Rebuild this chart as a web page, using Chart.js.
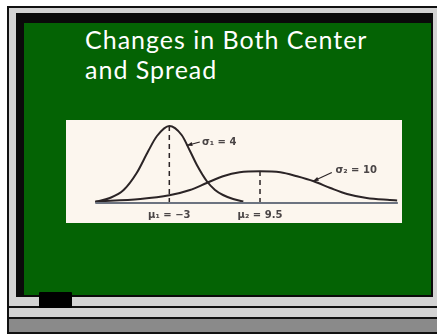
<!DOCTYPE html>
<html>
<head>
<meta charset="utf-8">
<script src="https://cdn.jsdelivr.net/npm/chart.js@4"></script>
<style>
  html, body { margin: 0; padding: 0; background: #fff; }
  body { width: 437px; height: 335px; position: relative; overflow: hidden; }
  .abs { position: absolute; box-sizing: border-box; }
  #frame { left: 7px; top: 6px; width: 440px; height: 328px; border: 2px solid #111; background: #d3d3d3; }
  #board { left: 16px; top: 13px; width: 417px; height: 284px; background: #046304;
           border-style: solid; border-color: #0a0a0a; border-width: 10px 2px 2px 8px; }
  #line1 { left: 9px; top: 306px; width: 440px; height: 2px; background: #111; }
  #line2 { left: 9px; top: 317px; width: 440px; height: 2px; background: #111; }
  #lower { left: 9px; top: 319px; width: 440px; height: 13px; background: #8a8a8a; }
  #eraser { left: 39px; top: 292px; width: 33px; height: 16px; background: #000; border-radius: 1px; }
  #title { left: 85px; top: 24px; color: #fff; font-family: "Comic Sans MS", Lato, sans-serif;
           font-size: 25px; letter-spacing: 1px; line-height: 30px; white-space: nowrap; }
  #wrap { left: 66px; top: 120px; width: 336px; height: 103px; background: #fcf6ee; }
</style>
</head>
<body>
<div id="frame" class="abs"></div>
<div id="board" class="abs"></div>
<div id="line1" class="abs"></div>
<div id="line2" class="abs"></div>
<div id="lower" class="abs"></div>
<div id="eraser" class="abs"></div>
<div id="title" class="abs">Changes in Both Center<br>and Spread</div>
<div id="wrap" class="abs"><canvas id="chart" width="336" height="103"></canvas></div>
<script>
// curve 1 (mean -3, sd 4), heights in picture units
const curve1X = [-13.2, -11.2, -9.3, -7.5, -5.9, -4.7, -3, -1.3, -0.15, 0.8, 2.15, 3.3, 4.4, 5.8, 7.2];
const curve1Y = [1, 5, 13, 30, 52, 67, 77, 68, 52, 38, 22, 13, 8, 4, 1.5];

// curve 2 (mean 9.5, sd 10)
const curve2X = [-13.2, -7, -3, -0.15, 2.15, 4.4, 6.7, 9.5, 12.3, 14.6, 16.9, 19.2, 21.5, 24.2, 27.4, 28.4];
const curve2Y = [1.5, 4, 7.7, 13, 20, 26.7, 30.7, 31.7, 30.7, 26.7, 21.7, 15, 9, 5, 3, 2.5];

const means = [-3, 9.5];
const meanHeights = [77, 31.7];
const baseRange = [-13.2, 28.5];

const labels = [
    { text: 'σ₁ = 4', x: 1.5, y: 61, align: 'left', arrowFrom: [1.2, 61], arrowTo: [-0.6, 57.5] },
    { text: 'σ₂ = 10', x: 19.9, y: 33, align: 'left', arrowFrom: [19.4, 30.5], arrowTo: [16.8, 21.7] },
    { text: 'μ₁ = −3', x: -3, y: -12.7, align: 'center' },
    { text: 'μ₂ = 9.5', x: 9.5, y: -12.7, align: 'center' }
];

const toPoints = (xs, ys) => xs.map((x, i) => ({ x: x, y: ys[i] }));

const curveStyle = {
    showLine: true, pointRadius: 0, borderColor: '#2b2426', borderWidth: 2,
    cubicInterpolationMode: 'monotone', fill: false
};

const datasets = [
    Object.assign({ data: [{ x: baseRange[0], y: 0 }, { x: baseRange[1], y: 0 }] }, curveStyle,
        { borderColor: '#6c7380', cubicInterpolationMode: 'default', tension: 0 }),
    Object.assign({ data: toPoints(curve1X, curve1Y) }, curveStyle),
    Object.assign({ data: toPoints(curve2X, curve2Y) }, curveStyle)
];
means.forEach((m, i) => {
    datasets.push(Object.assign({ data: [{ x: m, y: 0 }, { x: m, y: meanHeights[i] }] }, curveStyle,
        { borderDash: [5, 4], borderWidth: 1.5, tension: 0, cubicInterpolationMode: 'default' }));
});

// annotation text and arrows
const annotate = {
    id: 'annotate',
    afterDatasetsDraw(chart) {
        const ctx = chart.ctx;
        const sx = chart.scales.x, sy = chart.scales.y;
        ctx.save();
        ctx.fillStyle = '#4a4546';
        ctx.strokeStyle = '#2b2426';
        ctx.font = 'bold 10px "DejaVu Sans", sans-serif';
        ctx.textBaseline = 'middle';
        labels.forEach(l => {
            ctx.textAlign = l.align;
            ctx.fillText(l.text, sx.getPixelForValue(l.x), sy.getPixelForValue(l.y));
            if (l.arrowFrom) {
                const x1 = sx.getPixelForValue(l.arrowFrom[0]), y1 = sy.getPixelForValue(l.arrowFrom[1]);
                const x2 = sx.getPixelForValue(l.arrowTo[0]), y2 = sy.getPixelForValue(l.arrowTo[1]);
                ctx.lineWidth = 1.2;
                ctx.beginPath(); ctx.moveTo(x1, y1); ctx.lineTo(x2, y2); ctx.stroke();
                const a = Math.atan2(y2 - y1, x2 - x1);
                ctx.beginPath();
                ctx.moveTo(x2, y2);
                ctx.lineTo(x2 - 6 * Math.cos(a - 0.35), y2 - 6 * Math.sin(a - 0.35));
                ctx.lineTo(x2 - 6 * Math.cos(a + 0.35), y2 - 6 * Math.sin(a + 0.35));
                ctx.closePath();
                ctx.fillStyle = '#2b2426';
                ctx.fill();
                ctx.fillStyle = '#4a4546';
            }
        });
        ctx.restore();
    }
};

new Chart(document.getElementById('chart'), {
    type: 'scatter',
    data: { datasets: datasets },
    options: {
        responsive: false,
        animation: false,
        layout: { padding: 0 },
        plugins: { legend: { display: false }, tooltip: { enabled: false } },
        clip: false,
        scales: {
            x: { type: 'linear', min: -17.24, max: 29.07, display: false },
            y: { type: 'linear', min: -20, max: 83, display: false }
        }
    },
    plugins: [annotate]
});
</script>
</body>
</html>
